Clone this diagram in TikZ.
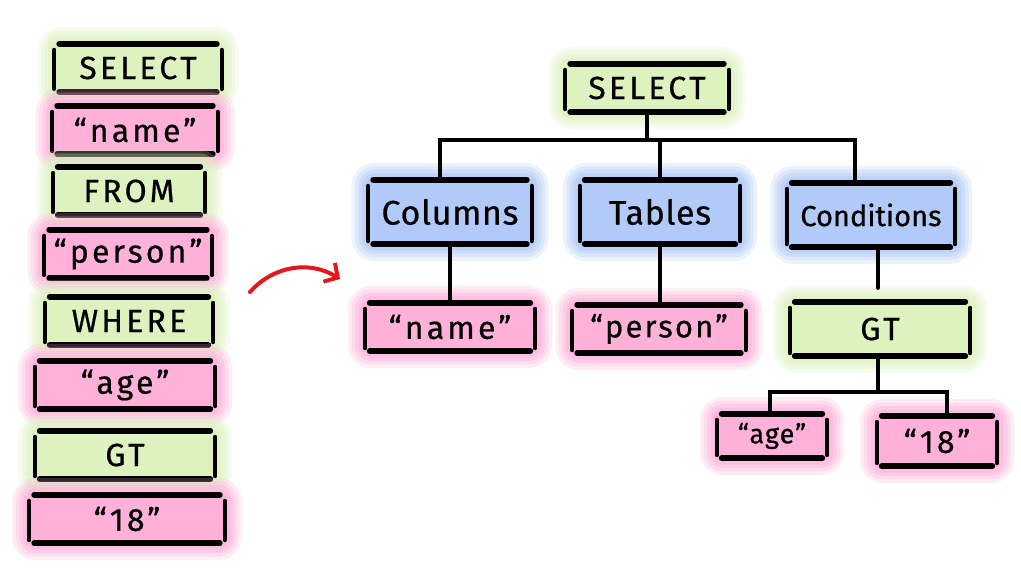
\documentclass[tikz,border=0pt]{standalone}
\usepackage{fontspec}
\setmainfont{Fira Sans}[LetterSpace=10, FakeBold=0.6]
\usepackage{tikz}
\usetikzlibrary{arrows.meta}

\definecolor{kwgreen}{HTML}{DDF2BF}
\definecolor{litpink}{HTML}{FFB1DA}
\definecolor{astblue}{HTML}{B1CAF8}
\definecolor{arrowred}{HTML}{E3171C}

\tikzset{
  hand/.style={font=\fontsize{32}{34}\selectfont},
  bighand/.style={font=\fontsize{34}{38}\selectfont\addfontfeature{LetterSpace=2}},
  bar/.style={draw=black, line width=6pt, line cap=round, shorten <=5pt, shorten >=5pt},
  side/.style={draw=black, line width=4pt, line cap=round, shorten <=6pt, shorten >=3pt},
  glow/.style={preaction={draw=#1, line width=34pt, draw opacity=.22, rounded corners=16pt},
    preaction={draw=#1, line width=27pt, draw opacity=.28, rounded corners=13pt},
    preaction={draw=#1, line width=20pt, draw opacity=.35, rounded corners=10pt},
    preaction={draw=#1, line width=13pt, draw opacity=.45, rounded corners=8pt},
    preaction={draw=#1, line width=6pt, draw opacity=.7}},
  tok/.style={rectangle, rounded corners=6pt, inner sep=0pt, minimum height=48,
    fill=#1, hand, glow=#1,
    append after command={
      (\tikzlastnode.north west) edge[bar] (\tikzlastnode.north east)
      (\tikzlastnode.south west) edge[bar] (\tikzlastnode.south east)
      (\tikzlastnode.north west) edge[side] (\tikzlastnode.south west)
      (\tikzlastnode.north east) edge[side] (\tikzlastnode.south east)}},
  link/.style={draw=black, line width=4.2pt, line cap=round}
}

\begin{document}
\begin{tikzpicture}[x=1pt,y=-1pt]
\fill[white] (0,0) rectangle (1021,588);
\useasboundingbox (0,0) rectangle (1021,588);

% token stream
\node[tok=kwgreen, minimum width=167] (s1) at (138,68) {SELECT};
\node[tok=litpink, minimum width=165] (s2) at (135,130) {“name”};
\node[tok=kwgreen, minimum width=152] (s3) at (129,191) {FROM};
\node[tok=litpink, minimum width=167] (s4) at (128,254) {“person”};
\node[tok=kwgreen, minimum width=168] (s5) at (129,321) {WHERE};
\node[tok=litpink, minimum width=180] (s6) at (125,385) {“age”};
\node[tok=kwgreen, minimum width=180] (s7) at (125,455) {GT};
\node[tok=litpink, minimum width=195] (s8) at (127,519) {“18”};

% arrow
\coordinate (a0) at (250,292);
\coordinate (a1) at (340,279);
\draw[arrowred, line width=4pt, line cap=round,
  -{Straight Barb[length=10pt,width=22pt]}] (a0) to[bend left=40] (a1);

% tree
\node[tok=kwgreen, minimum width=163] (sel) at (647,88) {SELECT};
\node[tok=astblue, bighand, minimum width=163, minimum height=64] (cols) at (450,212) {Columns};
\node[tok=astblue, bighand, minimum width=160, minimum height=64] (tabs) at (660,212) {Tables};
\node[tok=astblue, bighand, minimum width=168, minimum height=64,
  font=\fontsize{29}{34}\selectfont\addfontfeature{LetterSpace=0}] (conds) at (871,215) {Conditions};
\node[tok=litpink, minimum width=170] (nm) at (450,327) {“name”};
\node[tok=litpink, minimum width=173,
  font=\fontsize{31}{34}\selectfont\addfontfeature{LetterSpace=7}] (pers) at (659,329) {“person”};
\node[tok=kwgreen, minimum width=180, minimum height=54] (gt) at (880,329) {GT};
\node[tok=litpink, minimum width=110, minimum height=44,
  font=\fontsize{27}{30}\selectfont\addfontfeature{LetterSpace=4}] (age) at (772,436) {“age”};
\node[tok=litpink, minimum width=120, minimum height=50] (num) at (937,441) {“18”};

\coordinate (j1) at (648,140);
\coordinate (jc) at (440,140);
\coordinate (jd) at (855,140);
\coordinate (j2) at (878,392);
\coordinate (ja) at (770,392);
\coordinate (jn) at (947,392);

\draw[link] (sel.south) -- (sel.south |- j1);
\draw[link] (cols.north -| jc) -- (jc) -- (jd) -- (conds.north -| jd);
\draw[link] (tabs.north) -- (tabs.north |- j1);
\draw[link] (cols.south) -- (nm.north);
\draw[link] (tabs.south) -- (tabs.south |- pers.north);
\draw[link, shorten >=14pt] (conds.south -| j2) -- (gt.north -| j2);
\draw[link] (gt.south -| j2) -- (j2);
\draw[link] (age.north -| ja) -- (ja) -- (jn) -- (num.north -| jn);
\end{tikzpicture}
\end{document}
